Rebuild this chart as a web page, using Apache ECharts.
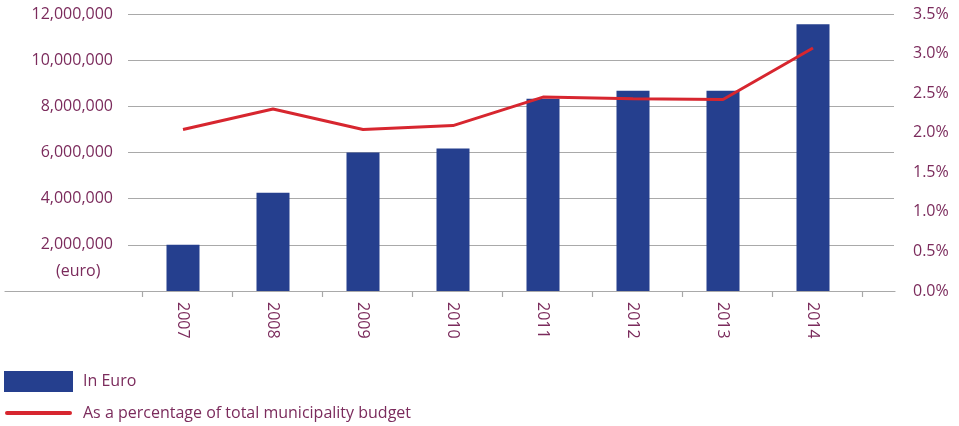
<!DOCTYPE html>
<html>
<head>
<meta charset="utf-8">
<script src="https://cdn.jsdelivr.net/npm/echarts@6/dist/echarts.min.js"></script>
<style>
  html, body { margin: 0; padding: 0; background: #fff; }
  #chart { width: 959px; height: 426px; }
</style>
</head>
<body>
<div id="chart"></div>
<script>
// Annual spending, 2007-2014
const years = ['2007', '2008', '2009', '2010', '2011', '2012', '2013', '2014'];
const euroValues = [2000000, 4260000, 6000000, 6170000, 8330000, 8680000, 8680000, 11560000];
const budgetShare = [2.04, 2.30, 2.04, 2.09, 2.45, 2.43, 2.42, 3.07];

const euroTicks = { min: 0, max: 12000000, interval: 2000000 };
const shareTicks = { min: 0, max: 3.5, interval: 0.5 };

const seriesNames = ['In Euro', 'As a percentage of total municipality budget'];

const labelColor = '#7b2b5c';
const lineGray = '#a9a9a9';
const barBlue = '#253f8e';
const lineRed = '#d7262f';
const fontFamily = '"Open Sans", "Noto Sans", sans-serif';
const fontSize = 16;

function withCommas(v) {
  return String(Math.round(v)).replace(/\B(?=(\d{3})+(?!\d))/g, ',');
}

const chart = echarts.init(document.getElementById('chart'), null, { renderer: 'canvas' });

const hiddenValueAxis = (gridIndex, range) => Object.assign({
  type: 'value', gridIndex, show: false
}, range || { min: 0, max: 1 });

chart.setOption({
  animation: false,
  backgroundColor: '#fff',
  textStyle: { fontFamily },
  title: {
    text: '(euro)',
    left: 56, top: 263,
    padding: 0,
    textStyle: { color: labelColor, fontSize, fontWeight: 'normal', fontFamily }
  },
  legend: [
    {
      data: [seriesNames[0]],
      left: 4, top: 371,
      padding: 0,
      itemWidth: 69, itemHeight: 21,
      icon: 'rect',
      textStyle: { color: labelColor, fontSize, fontFamily, padding: [0, 0, 0, 5] },
      selectedMode: false
    },
    {
      data: [seriesNames[1]],
      left: 5, top: 405,
      padding: 0,
      itemWidth: 67, itemHeight: 18,
      icon: 'path://M2,9 L65,9 A2,2 0 0 1 65,13 L2,13 A2,2 0 0 1 2,9 Z',
      textStyle: { color: labelColor, fontSize, fontFamily, padding: [2, 0, 0, 6] },
      itemStyle: { color: lineRed },
      selectedMode: false
    }
  ],
  grid: [
    // baseline that runs the full width
    { left: 5, right: 64, top: 14, bottom: 135 },
    // gridline area with both value scales
    { left: 128, right: 65, top: 14, bottom: 135 },
    // category tick marks
    { left: 142, right: 97, top: 14, bottom: 135 },
    // plotted data
    { left: 138, right: 101, top: 14, bottom: 135 }
  ],
  xAxis: [
    {
      type: 'value', gridIndex: 0, min: 0, max: 1,
      axisLine: { show: true, lineStyle: { color: lineGray, width: 1.2 } },
      axisTick: { show: false }, axisLabel: { show: false }, splitLine: { show: false }
    },
    hiddenValueAxis(1),
    {
      type: 'category', gridIndex: 2, data: years,
      boundaryGap: true,
      axisLine: { show: false },
      axisTick: { show: true, length: 6, lineStyle: { color: lineGray, width: 1.2 } },
      axisLabel: { show: false },
      splitLine: { show: false }
    },
    {
      type: 'category', gridIndex: 3, data: years,
      boundaryGap: true,
      axisLine: { show: false },
      axisTick: { show: false },
      axisLabel: {
        rotate: -90, margin: 11,
        color: labelColor, fontSize, fontFamily
      },
      splitLine: { show: false }
    }
  ],
  yAxis: [
    hiddenValueAxis(0),
    {
      type: 'value', gridIndex: 1, position: 'left',
      min: euroTicks.min, max: euroTicks.max, interval: euroTicks.interval,
      axisLine: { show: false }, axisTick: { show: false },
      axisLabel: {
        margin: 15, color: labelColor, fontSize, fontFamily,
        formatter: v => (v === 0 ? '' : withCommas(v))
      },
      splitLine: { show: true, lineStyle: { color: lineGray, width: 1.2 } }
    },
    {
      type: 'value', gridIndex: 1, position: 'right',
      min: shareTicks.min, max: shareTicks.max, interval: shareTicks.interval,
      axisLine: { show: false }, axisTick: { show: false },
      axisLabel: {
        margin: 19, color: labelColor, fontSize, fontFamily,
        formatter: v => v.toFixed(1) + '%'
      },
      splitLine: { show: false }
    },
    hiddenValueAxis(2),
    hiddenValueAxis(3, euroTicks),
    hiddenValueAxis(3, shareTicks)
  ],
  series: [
    {
      name: seriesNames[0],
      type: 'bar',
      xAxisIndex: 3, yAxisIndex: 4,
      data: euroValues,
      barWidth: 33,
      itemStyle: { color: barBlue },
      z: 2
    },
    {
      name: seriesNames[1],
      type: 'line',
      xAxisIndex: 3, yAxisIndex: 5,
      data: budgetShare,
      showSymbol: false,
      symbol: 'none',
      lineStyle: { color: lineRed, width: 3 },
      itemStyle: { color: lineRed },
      z: 3
    }
  ]
});
</script>
</body>
</html>
